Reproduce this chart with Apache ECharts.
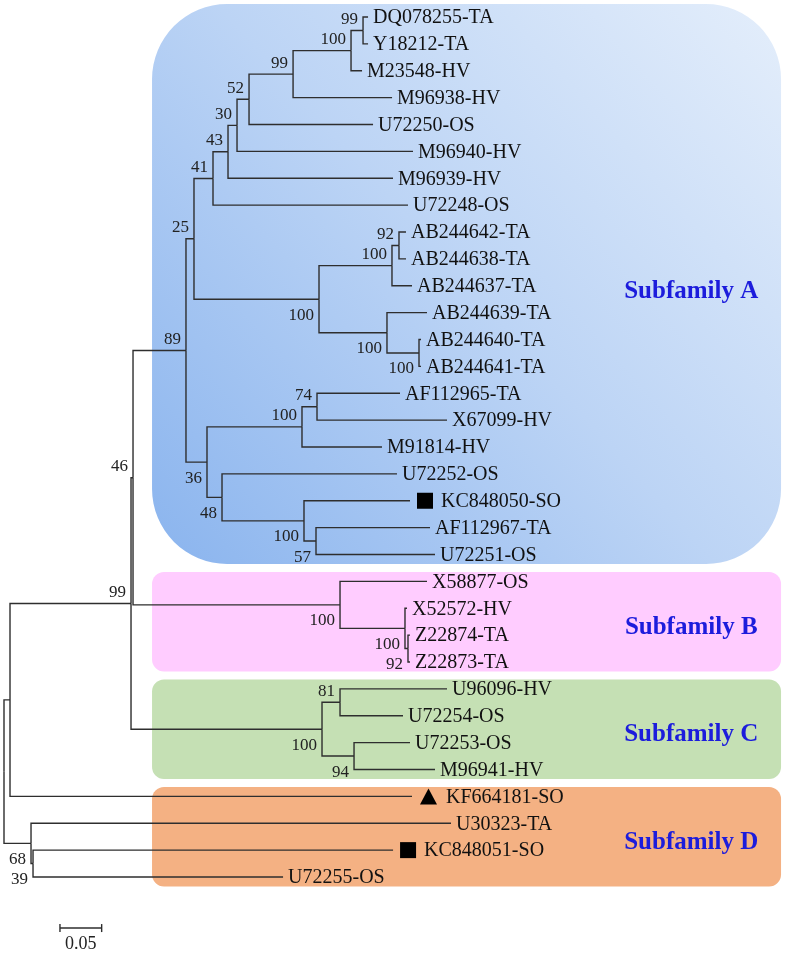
<!DOCTYPE html>
<html>
<head>
<meta charset="utf-8">
<title>Subfamily tree</title>
<script src="https://cdn.jsdelivr.net/npm/echarts@6/dist/echarts.min.js"></script>
<style>
  html, body { margin: 0; padding: 0; background: #fff; }
  #tree { width: 787px; height: 954px; }
</style>
</head>
<body>
<div id="tree"></div>
<script>
// internal nodes (parent, branch length, bootstrap)
const nodeIds = ['root', 'n10', 'nX', 'nY', 'n99', 'n46', 'n89', 'n25', 'n41', 'n43', 'n30', 'n52', 'n99b', 'n100a', 'n99c',
  'nAB', 'nAB1', 'n92', 'nAB2', 'nAB3', 'n36', 'n100b', 'n74', 'n48', 'n100c', 'n57', 'nB', 'nB1', 'nB2', 'nC', 'n81', 'n94'];
const nodeParent = [null, 'root', 'root', 'nX', 'n10', 'n99', 'n46', 'n89', 'n25', 'n41', 'n43', 'n30', 'n52', 'n99b', 'n100a',
  'n25', 'nAB', 'nAB1', 'nAB', 'nAB2', 'n89', 'n36', 'n100b', 'n36', 'n48', 'n100c', 'n46', 'nB', 'nB1', 'n99', 'nC', 'nC'];
const nodeLength = [0, 0.0072, 0.0324, 0.0024, 0.1451, 0.0024, 0.0635, 0.0096, 0.0228, 0.0180, 0.0108, 0.0144, 0.0528, 0.0695, 0.0144,
  0.1499, 0.0875, 0.0084, 0.0815, 0.0384, 0.0252, 0.1139, 0.0180, 0.0180, 0.0983, 0.0144, 0.2482, 0.0779, 0.0036, 0.2290, 0.0216, 0.0384];
const nodeSupport = ['', '', '68', '39', '99', '46', '89', '25', '41', '43', '30', '52', '99', '100', '99',
  '100', '100', '92', '100', '100', '36', '100', '74', '48', '100', '57', '100', '100', '92', '100', '81', '94'];

// leaves, top to bottom
const leafNames = ['DQ078255-TA', 'Y18212-TA', 'M23548-HV', 'M96938-HV', 'U72250-OS', 'M96940-HV', 'M96939-HV', 'U72248-OS',
  'AB244642-TA', 'AB244638-TA', 'AB244637-TA', 'AB244639-TA', 'AB244640-TA', 'AB244641-TA',
  'AF112965-TA', 'X67099-HV', 'M91814-HV', 'U72252-OS', 'KC848050-SO', 'AF112967-TA', 'U72251-OS',
  'X58877-OS', 'X52572-HV', 'Z22874-TA', 'Z22873-TA',
  'U96096-HV', 'U72254-OS', 'U72253-OS', 'M96941-HV',
  'KF664181-SO', 'U30323-TA', 'KC848051-SO', 'U72255-OS'];
const leafParent = ['n99c', 'n99c', 'n100a', 'n99b', 'n52', 'n30', 'n43', 'n41',
  'n92', 'n92', 'nAB1', 'nAB2', 'nAB3', 'nAB3',
  'n74', 'n74', 'n100b', 'n48', 'n100c', 'n57', 'n57',
  'nB', 'nB1', 'nB2', 'nB2',
  'n81', 'n81', 'n94', 'n94',
  'n10', 'nX', 'nY', 'nY'];
const leafLength = [0.0060, 0.0060, 0.0132, 0.1187, 0.1487, 0.2110, 0.1978, 0.2338,
  0.0084, 0.0084, 0.0240, 0.0480, 0.0024, 0.0024,
  0.0995, 0.1559, 0.0959, 0.2098, 0.1271, 0.1367, 0.1427,
  0.1043, 0.0024, 0.0024, 0.0024,
  0.1283, 0.0755, 0.0671, 0.0971,
  0.4820, 0.5036, 0.4317, 0.2998];
const leafMark = ['', '', '', '', '', '', '', '', '', '', '', '', '', '', '', '', '', '', 'square', '', '',
  '', '', '', '', '', '', '', '', 'triangle', '', 'square', ''];

const groupNames = ['Subfamily A', 'Subfamily B', 'Subfamily C', 'Subfamily D'];
const groupFirst = [0, 21, 25, 29];
const groupLast = [20, 24, 28, 32];
const groupColors = [null, '#ffccff', '#c5e0b4', '#f4b183'];

const scaleLength = 0.05;

// build tree
const parentOf = {}, lenOf = {}, children = {};
nodeIds.forEach((id, i) => { parentOf[id] = nodeParent[i]; lenOf[id] = nodeLength[i]; children[id] = []; });
leafNames.forEach((n, i) => { parentOf['L' + i] = leafParent[i]; lenOf['L' + i] = leafLength[i]; });
Object.keys(parentOf).forEach(id => { if (parentOf[id]) children[parentOf[id]].push(id); });

const xOf = {}, yOf = {};
function getX(id) {
  if (xOf[id] !== undefined) return xOf[id];
  xOf[id] = parentOf[id] ? getX(parentOf[id]) + lenOf[id] : 0;
  return xOf[id];
}
function getY(id) {
  if (yOf[id] !== undefined) return yOf[id];
  if (id[0] === 'L') yOf[id] = +id.slice(1);
  else {
    const ys = children[id].map(getY);
    yOf[id] = (Math.min(...ys) + Math.max(...ys)) / 2;
  }
  return yOf[id];
}
Object.keys(parentOf).forEach(id => { getX(id); getY(id); });

const branchData = Object.keys(parentOf).filter(id => parentOf[id]).map(id => {
  const p = parentOf[id];
  return [xOf[p], yOf[p], xOf[id], yOf[id]];
});
const supportIds = nodeIds.filter((id, i) => nodeSupport[i] !== '');
const supportData = supportIds.map(id => [xOf[id], yOf[id], yOf[id] < yOf[parentOf[id]] ? 1 : 0]);
const leafData = leafNames.map((n, i) => [xOf['L' + i], i]);

const boxLeft = 0.1775, boxRight = 0.9317, labelX = 0.824;
const boxData = groupNames.map((g, i) => [boxLeft, i === 0 ? groupFirst[i] - 0.48 : groupFirst[i] - 0.35, boxRight, groupLast[i] + 0.35]);
const groupLabelData = groupNames.map((g, i) => [labelX, (groupFirst[i] + groupLast[i]) / 2 + 0.2]);

const serif = '"Liberation Serif", "Times New Roman", serif';
const lineColor = '#2e2e2e';

const chart = echarts.init(document.getElementById('tree'));

chart.setOption({
  animation: false,
  grid: { left: 4, top: 17, width: 782.3, height: 860 },
  xAxis: { type: 'value', min: 0, max: 0.938, show: false },
  yAxis: { type: 'value', min: 0, max: 32, inverse: true, show: false },
  series: [
    {
      type: 'custom',
      data: boxData,
      z: 1,
      renderItem: function (params, api) {
        const a = api.coord([api.value(0), api.value(1)]);
        const b = api.coord([api.value(2), api.value(3)]);
        const i = params.dataIndex;
        const fill = i === 0
          ? new echarts.graphic.LinearGradient(0, 1, 1, 0, [
              { offset: 0, color: '#8ab4ee' },
              { offset: 0.5, color: '#bcd4f5' },
              { offset: 1, color: '#e4eefb' }
            ])
          : groupColors[i];
        return {
          type: 'rect',
          shape: { x: a[0], y: a[1], width: b[0] - a[0], height: b[1] - a[1], r: i === 0 ? 75 : 12 },
          style: { fill: fill }
        };
      }
    },
    {
      type: 'custom',
      data: groupLabelData,
      z: 2,
      renderItem: function (params, api) {
        const p = api.coord([api.value(0), api.value(1)]);
        return {
          type: 'text',
          x: p[0], y: p[1],
          style: {
            text: groupNames[params.dataIndex],
            font: 'bold 25px ' + serif,
            fill: '#1c1cdc',
            align: 'center', textAlign: 'center',
            verticalAlign: 'middle', textVerticalAlign: 'middle'
          }
        };
      }
    },
    {
      type: 'custom',
      data: branchData,
      z: 3,
      renderItem: function (params, api) {
        const p0 = api.coord([api.value(0), api.value(1)]);
        const p1 = api.coord([api.value(0), api.value(3)]);
        const p2 = api.coord([api.value(2), api.value(3)]);
        return {
          type: 'polyline',
          shape: { points: [p0, p1, p2] },
          style: { stroke: lineColor, lineWidth: 1.4, fill: 'none' }
        };
      }
    },
    {
      type: 'custom',
      data: supportData,
      z: 4,
      renderItem: function (params, api) {
        const p = api.coord([api.value(0), api.value(1)]);
        const above = api.value(2) === 1;
        return {
          type: 'text',
          x: p[0] - 5, y: p[1] + (above ? -11 : 16),
          style: {
            text: nodeSupport[nodeIds.indexOf(supportIds[params.dataIndex])],
            font: '17px ' + serif,
            fill: '#222',
            align: 'right', textAlign: 'right',
            verticalAlign: 'middle', textVerticalAlign: 'middle'
          }
        };
      }
    },
    {
      type: 'custom',
      data: leafData,
      z: 5,
      renderItem: function (params, api) {
        const p = api.coord([api.value(0), api.value(1)]);
        const i = params.dataIndex;
        const mark = leafMark[i];
        const kids = [];
        let tx = p[0] + 5;
        if (mark === 'square') {
          kids.push({ type: 'rect', shape: { x: p[0] + 7, y: p[1] - 8, width: 16, height: 16 }, style: { fill: '#000' } });
          tx = p[0] + 31;
        } else if (mark === 'triangle') {
          kids.push({ type: 'polygon', shape: { points: [[p[0] + 8, p[1] + 8], [p[0] + 25, p[1] + 8], [p[0] + 16.5, p[1] - 8]] }, style: { fill: '#000' } });
          tx = p[0] + 34;
        }
        kids.push({
          type: 'text',
          x: tx, y: p[1] + 1,
          style: {
            text: leafNames[i],
            font: '20px ' + serif,
            fill: '#111',
            align: 'left', textAlign: 'left',
            verticalAlign: 'middle', textVerticalAlign: 'middle'
          }
        });
        return { type: 'group', children: kids };
      }
    },
    {
      type: 'custom',
      data: [[0.0671, 33.9]],
      z: 5,
      renderItem: function (params, api) {
        const a = api.coord([api.value(0), api.value(1)]);
        const b = api.coord([api.value(0) + scaleLength, api.value(1)]);
        return {
          type: 'group',
          children: [
            { type: 'line', shape: { x1: a[0], y1: a[1], x2: b[0], y2: b[1] }, style: { stroke: lineColor, lineWidth: 1.4 } },
            { type: 'line', shape: { x1: a[0], y1: a[1] - 4, x2: a[0], y2: a[1] + 4 }, style: { stroke: lineColor, lineWidth: 1.4 } },
            { type: 'line', shape: { x1: b[0], y1: b[1] - 4, x2: b[0], y2: b[1] + 4 }, style: { stroke: lineColor, lineWidth: 1.4 } },
            {
              type: 'text', x: (a[0] + b[0]) / 2, y: a[1] + 16,
              style: {
                text: String(scaleLength), font: '18px ' + serif, fill: '#222',
                align: 'center', textAlign: 'center', verticalAlign: 'middle', textVerticalAlign: 'middle'
              }
            }
          ]
        };
      }
    }
  ]
});
</script>
</body>
</html>
